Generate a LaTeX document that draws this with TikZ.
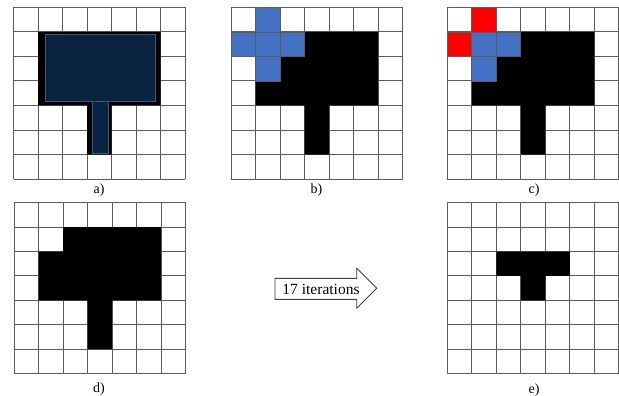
\documentclass[tikz,border=0pt]{standalone}
\usepackage{fontspec}
\setmainfont{Liberation Serif}
\definecolor{gridgray}{HTML}{5C5C5C}
\definecolor{navyfill}{HTML}{0A2340}
\definecolor{navyedge}{HTML}{3C5A7A}
\definecolor{cellblue}{HTML}{4472C4}
\definecolor{cellred}{HTML}{FF0000}
\begin{document}
\begin{tikzpicture}[x=1pt,y=-1pt,
  gridline/.style={draw=gridgray,line width=1pt},
  blackshape/.style={fill=black},
  navyshape/.style={fill=navyfill,draw=navyedge,line width=0.6pt},
  bluecell/.style={fill=cellblue,draw=gridgray,line width=0.8pt},
  redcell/.style={fill=cellred,draw=gridgray,line width=0.8pt},
  caption/.style={font=\fontsize{14}{16}\selectfont,inner sep=0pt},
  arrowshape/.style={draw=black!75,line width=0.9pt,fill=white},
  arrowtext/.style={font=\fontsize{15.5}{18}\selectfont,inner sep=0pt}]
\useasboundingbox (0,0) rectangle (619,396);
\newcommand{\mygridlines}{%
  \foreach \i in {0,...,7} {%
    \draw[gridline] (\i,0) -- (\i,7);
    \draw[gridline] (0,\i) -- (7,\i);
  }}
% ---------- a)
\begin{scope}[shift={(13.5pt,-7.5pt)},x=24.5pt,y=-24.5pt]
  \mygridlines
  \fill[blackshape] (1,1) -- (6,1) -- (6,4) -- (4,4) -- (4,6) -- (3,6) -- (3,4) -- (1,4) -- cycle;
  \filldraw[navyshape] (1.29,1.08) rectangle (5.8,3.84);
  \filldraw[navyshape] (3.2,3.84) rectangle (3.86,5.94);
\end{scope}
\node[caption] (la) at (99,190) {a)};
% ---------- b)
\begin{scope}[shift={(231pt,-7.5pt)},x=24.5pt,y=-24.5pt]
  \mygridlines
  \fill[blackshape] (3,1) -- (6,1) -- (6,4) -- (4,4) -- (4,6) -- (3,6) -- (3,4) -- (1,4) -- (1,3) -- (2,3) -- (2,2) -- (3,2) -- cycle;
  \filldraw[bluecell] (1,0) rectangle (2,1);
  \filldraw[bluecell] (0,1) rectangle (1,2);
  \filldraw[bluecell] (1,1) rectangle (2,2);
  \filldraw[bluecell] (2,1) rectangle (3,2);
  \filldraw[bluecell] (1,2) rectangle (2,3);
\end{scope}
\node[caption] (lb) at (316.5,190) {b)};
% ---------- c)
\begin{scope}[shift={(447.3pt,-7.5pt)},x=24.5pt,y=-24.5pt]
  \mygridlines
  \fill[blackshape] (3,1) -- (6,1) -- (6,4) -- (4,4) -- (4,6) -- (3,6) -- (3,4) -- (1,4) -- (1,3) -- (2,3) -- (2,2) -- (3,2) -- cycle;
  \filldraw[redcell] (1,0) rectangle (2,1);
  \filldraw[redcell] (0,1) rectangle (1,2);
  \filldraw[bluecell] (1,1) rectangle (2,2);
  \filldraw[bluecell] (2,1) rectangle (3,2);
  \filldraw[bluecell] (1,2) rectangle (2,3);
\end{scope}
\node[caption] (lc) at (534,190) {c)};
% ---------- d)
\begin{scope}[shift={(14pt,-202.7pt)},x=24.5pt,y=-24.4pt]
  \mygridlines
  \fill[blackshape] (2,1) -- (6,1) -- (6,4) -- (4,4) -- (4,6) -- (3,6) -- (3,4) -- (1,4) -- (1,2) -- (2,2) -- cycle;
\end{scope}
\node[caption] (ld) at (99,389) {d)};
% ---------- e)
\begin{scope}[shift={(447.3pt,-202.7pt)},x=24.5pt,y=-24.4pt]
  \mygridlines
  \fill[blackshape] (2,2) -- (5,2) -- (5,3) -- (4,3) -- (4,4) -- (3,4) -- (3,3) -- (2,3) -- cycle;
\end{scope}
\node[caption] (le) at (534,390) {e)};
% ---------- arrow
\filldraw[arrowshape] (275,278.3) -- (356.7,278.3) -- (356.7,268.3) -- (376.7,288.3) -- (356.7,308.3) -- (356.7,299.3) -- (275,299.3) -- cycle;
\node[arrowtext] (it) at (321,289) {17 iterations};
\end{tikzpicture}
\end{document}
